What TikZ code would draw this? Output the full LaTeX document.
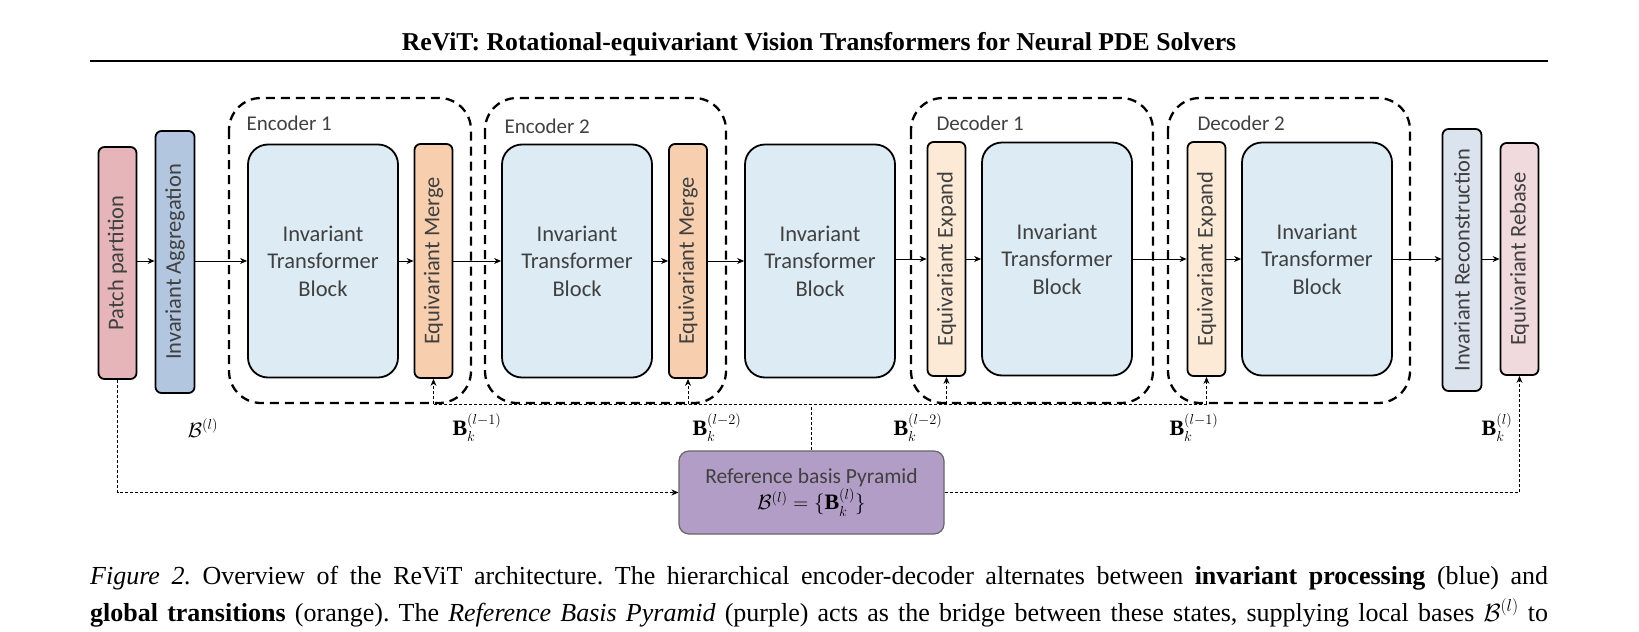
\documentclass[tikz,border=0pt]{standalone}
\usepackage{fontspec}
\setmainfont{Liberation Serif}
\newfontfamily\boxfont{Carlito}
\usepackage{amsmath,amssymb}
\usetikzlibrary{arrows.meta}
\definecolor{itb}{HTML}{DCEBF4}
\definecolor{merge}{HTML}{F8CFAE}
\definecolor{expand}{HTML}{FCE9D6}
\definecolor{patch}{HTML}{E6B5B9}
\definecolor{agg}{HTML}{B3C6DF}
\definecolor{recon}{HTML}{DAE3EE}
\definecolor{rebase}{HTML}{F0DADE}
\definecolor{pyr}{HTML}{B29DC6}
\definecolor{txt}{HTML}{404040}
\tikzset{
 blk/.style={draw=black,line width=1.8pt,rounded corners=20pt,fill=itb,minimum width=150pt,minimum height=233pt,
   align=center,font=\boxfont\fontsize{22.5}{27.5}\selectfont,text=txt},
 bar/.style={draw=black,line width=1.8pt,rounded corners=6pt,minimum width=38pt,inner sep=0pt,
   font=\boxfont\fontsize{22.5}{24}\selectfont,text=txt},
 grp/.style={draw=black,line width=2.3pt,dash pattern=on 9pt off 6pt,rounded corners=32pt},
 glab/.style={font=\boxfont\fontsize{21}{24}\selectfont,text=txt,anchor=west},
 arr/.style={-{Stealth[length=7pt,width=6pt]},line width=0.9pt},
 dot/.style={densely dashed,line width=0.8pt},
 darr/.style={dot,-{Stealth[length=7pt,width=6pt]}},
 blab/.style={font=\fontsize{22}{26}\selectfont},
}
\newcommand{\vt}[1]{\rotatebox{90}{#1}}
\begin{document}
\begin{tikzpicture}[x=1pt,y=-1pt]
\useasboundingbox (0,0) rectangle (1639,632);
% title
\node[font=\bfseries\fontsize{25.7}{28}\selectfont,anchor=base] (title) at (819,50) {ReViT: Rotational-equivariant Vision Transformers for Neural PDE Solvers};
\draw[line width=2pt] (90,61) -- (1548,61);
% groups
\draw[grp] (229,98) rectangle (471,403);
\draw[grp] (485,98) rectangle (726,403);
\draw[grp] (911,98) rectangle (1153,403);
\draw[grp] (1168,98) rectangle (1410,403);
\node[glab] (e1) at (243,123) {Encoder 1};
\node[glab] (e2) at (501,126) {Encoder 2};
\node[glab] (d1) at (933,123) {Decoder 1};
\node[glab] (d2) at (1194,123) {Decoder 2};
% blocks
\node[bar,fill=patch,minimum height=232pt] (pp) at (117.5,263) {\vt{Patch partition}};
\node[bar,fill=agg,minimum height=262pt,minimum width=39pt] (ia) at (175,262) {\vt{Invariant Aggregation}};
\node[blk] (t1) at (323,261) {Invariant\\Transformer\\Block};
\node[bar,fill=merge,minimum height=234pt] (m1) at (433.5,261) {\vt{Equivariant Merge}};
\node[blk] (t2) at (577,261) {Invariant\\Transformer\\Block};
\node[bar,fill=merge,minimum height=234pt] (m2) at (688,261) {\vt{Equivariant Merge}};
\node[blk] (t3) at (820,261) {Invariant\\Transformer\\Block};
\node[bar,fill=expand,minimum height=234pt] (x1) at (946.5,259) {\vt{Equivariant Expand}};
\node[blk] (t4) at (1057,259) {Invariant\\Transformer\\Block};
\node[bar,fill=expand,minimum height=234pt] (x2) at (1206.5,259) {\vt{Equivariant Expand}};
\node[blk] (t5) at (1317,259) {Invariant\\Transformer\\Block};
\node[bar,fill=recon,minimum height=262pt,minimum width=39pt] (ir) at (1462,260) {\vt{Invariant Reconstruction}};
\node[bar,fill=rebase,minimum height=232pt] (rb) at (1519.5,259) {\vt{Equivariant Rebase}};
% main arrows
\draw[arr] (pp.east |- 0,261) -- (ia.west |- 0,261);
\draw[arr] (ia.east |- 0,261) -- (t1.west |- 0,261);
\draw[arr] (t1.east |- 0,261) -- (m1.west |- 0,261);
\draw[arr] (m1.east |- 0,261) -- (t2.west |- 0,261);
\draw[arr] (t2.east |- 0,261) -- (m2.west |- 0,261);
\draw[arr] (m2.east |- 0,261) -- (t3.west |- 0,261);
\draw[arr] (t3.east |- 0,259) -- (x1.west |- 0,259);
\draw[arr] (x1.east |- 0,259) -- (t4.west |- 0,259);
\draw[arr] (t4.east |- 0,259) -- (x2.west |- 0,259);
\draw[arr] (x2.east |- 0,259) -- (t5.west |- 0,259);
\draw[arr] (t5.east |- 0,259) -- (ir.west |- 0,259);
\draw[arr] (ir.east |- 0,259) -- (rb.west |- 0,259);
% pyramid
\node[draw=gray!80!black,line width=1.2pt,rounded corners=10pt,fill=pyr,minimum width=265pt,minimum height=83pt,align=center,
  font=\fontsize{22}{27}\selectfont] (py) at (811.5,492.5) {{\boxfont\fontsize{21.5}{24}\selectfont\color{txt}Reference basis Pyramid}\\[-1pt] $\mathcal{B}^{(l)}=\{\mathbf{B}_k^{(l)}\}$};
% bus
\coordinate (bl) at (433.5,404);
\coordinate (br) at (1206.5,404);
\coordinate (bm) at (811.5,404);
\draw[dot] (bl) -- (br);
\draw[dot,line width=1.6pt] (py.north) -- (bm);
\draw[darr] (bl) -- (m1.south);
\draw[darr] (m2.south |- bl) -- (m2.south);
\draw[darr] (x1.south |- bl) -- (x1.south);
\draw[darr] (br) -- (x2.south);
\draw[darr] (pp.south) |- (py.west);
\draw[darr] (py.east) -| (rb.south);
% labels
\node[blab] (L0) at (203,428) {$\mathcal{B}^{(l)}$};
\node[blab] (L1) at (477,428) {$\mathbf{B}_k^{(l-1)}$};
\node[blab] (L2) at (717,428) {$\mathbf{B}_k^{(l-2)}$};
\node[blab] (L3) at (918,428) {$\mathbf{B}_k^{(l-2)}$};
\node[blab] (L4) at (1194,428) {$\mathbf{B}_k^{(l-1)}$};
\node[blab] (L5) at (1497,428) {$\mathbf{B}_k^{(l)}$};
% caption
\node[anchor=base west,inner sep=0pt,font=\fontsize{26}{28}\selectfont\frenchspacing] (c1) at (90,584) {\hbox to 1458pt{\textit{Figure 2.}\ Overview of the ReViT architecture. The hierarchical encoder-decoder alternates between \textbf{invariant processing} (blue) and}};
\node[anchor=base west,inner sep=0pt,font=\fontsize{26}{28}\selectfont\frenchspacing] (c2) at (90,621) {\hbox to 1458pt{\textbf{global transitions} (orange). The \textit{Reference Basis Pyramid} (purple) acts as the bridge between these states, supplying local bases $\mathcal{B}^{(l)}$ to}};
\end{tikzpicture}
\end{document}
